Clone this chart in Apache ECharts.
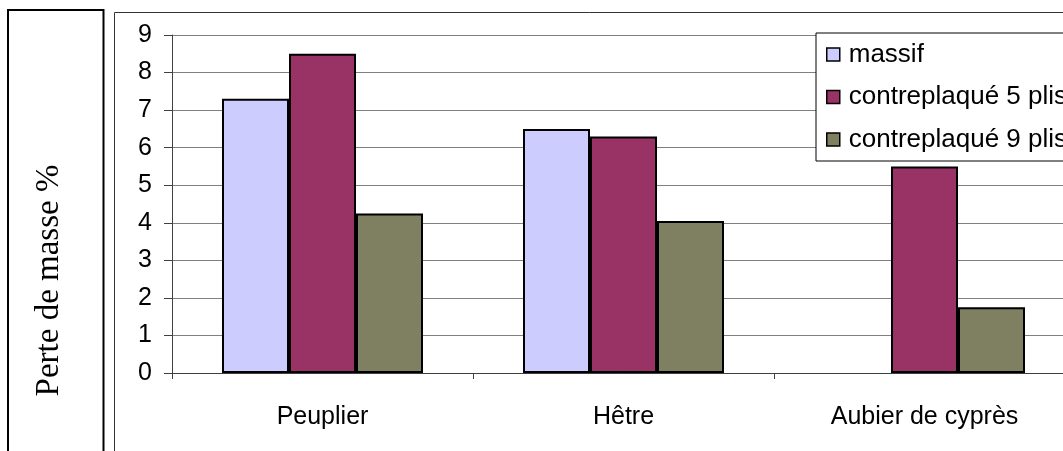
<!DOCTYPE html>
<html>
<head>
<meta charset="utf-8">
<script src="https://cdn.jsdelivr.net/npm/echarts@6/dist/echarts.min.js"></script>
<style>
  html, body { margin: 0; padding: 0; background: #fff; }
  #chart { width: 1063px; height: 451px; }
</style>
</head>
<body>
<div id="chart"></div>
<script>
// Wood species tested
const categories = ['Peuplier', 'Hêtre', 'Aubier de cyprès'];

// Mass loss (%) per panel type; no solid-wood sample for cypress sapwood
const massif = [7.3, 6.5, null];
const contreplaque5 = [8.5, 6.3, 5.5];
const contreplaque9 = [4.25, 4.05, 1.75];

const seriesNames = ['massif', 'contreplaqué 5 plis', 'contreplaqué 9 plis'];
const yTicks = { min: 0, max: 9, interval: 1 };
const yTitle = 'Perte de masse %';

const SANS = '"Liberation Sans", Arial, sans-serif';
const SERIF = '"Liberation Serif", "Times New Roman", serif';

const chart = echarts.init(document.getElementById('chart'), null, { renderer: 'canvas' });

const barStyle = (color) => ({ color: color, borderColor: '#000', borderWidth: 2 });

chart.setOption({
  animation: false,
  backgroundColor: '#fff',
  textStyle: { fontFamily: SANS },
  // plot area runs past the right edge of the canvas
  grid: { left: 172, top: 35, width: 903, height: 338, containLabel: false, outerBoundsMode: 'none' },
  legend: {
    orient: 'vertical',
    left: 816,
    top: 33,
    padding: [8.5, 300, 8.5, 10],
    itemGap: 16.5,
    itemWidth: 13,
    itemHeight: 13,
    backgroundColor: '#fff',
    borderColor: '#000',
    borderWidth: 1,
    borderRadius: 0,
    icon: 'rect',
    itemStyle: { borderColor: '#000', borderWidth: 1.5 },
    textStyle: { fontFamily: SANS, fontSize: 26, color: '#000', lineHeight: 25, padding: [0, 0, 0, 4] },
    data: seriesNames
  },
  xAxis: {
    type: 'category',
    data: categories,
    axisLine: { lineStyle: { color: '#404040', width: 1 } },
    axisTick: { show: true, length: 6, alignWithLabel: false, lineStyle: { color: '#404040' } },
    axisLabel: { fontFamily: SANS, fontSize: 25, color: '#000', margin: 32 },
    splitLine: { show: false }
  },
  yAxis: {
    type: 'value',
    min: yTicks.min,
    max: yTicks.max,
    interval: yTicks.interval,
    axisLine: { show: true, lineStyle: { color: '#404040', width: 1 } },
    axisTick: { show: true, length: 8, lineStyle: { color: '#404040' } },
    axisLabel: { fontFamily: SANS, fontSize: 25, color: '#000', margin: 20 },
    splitLine: { show: true, lineStyle: { color: '#808080', width: 1 } }
  },
  graphic: [
    // outer frame of the chart area
    { type: 'rect', shape: { x: 114.5, y: 12.5, width: 1000, height: 500 },
      style: { fill: null, stroke: '#333', lineWidth: 1 }, silent: true, z: -1 },
    // frame holding the vertical axis title
    { type: 'rect', shape: { x: 8, y: 10, width: 95.5, height: 500 },
      style: { fill: null, stroke: '#000', lineWidth: 2 }, silent: true, z: -1 },
    { type: 'text', x: 49, y: 280.5, rotation: Math.PI / 2,
      style: { text: yTitle, font: '33px ' + SERIF, fill: '#000', align: 'center', verticalAlign: 'middle' } }
  ],
  series: [
    { name: seriesNames[0], type: 'bar', data: massif, barGap: '0%', barWidth: 67, itemStyle: barStyle('#CCCCFF') },
    { name: seriesNames[1], type: 'bar', data: contreplaque5, barGap: '0%', barWidth: 67, itemStyle: barStyle('#993366') },
    { name: seriesNames[2], type: 'bar', data: contreplaque9, barGap: '0%', barWidth: 67, itemStyle: barStyle('#7F7F62') }
  ]
});
</script>
</body>
</html>
